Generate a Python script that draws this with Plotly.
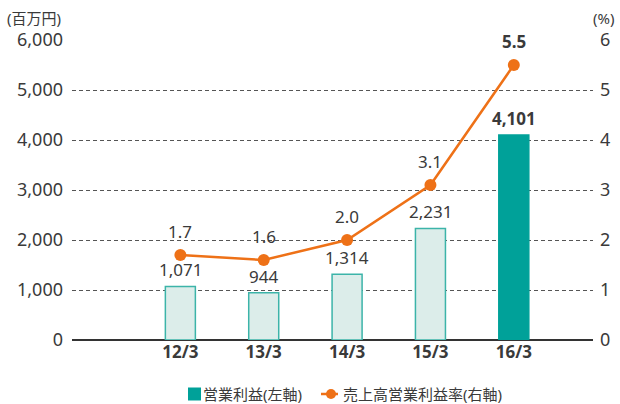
import plotly.graph_objects as go

categories = ["12/3", "13/3", "14/3", "15/3", "16/3"]
op_income = [1071, 944, 1314, 2231, 4101]
op_margin = [1.7, 1.6, 2.0, 3.1, 5.5]
left_ticks = [0, 1000, 2000, 3000, 4000, 5000, 6000]
right_ticks = [0, 1, 2, 3, 4, 5, 6]
legend_names = ["営業利益(左軸)", "売上高営業利益率(右軸)"]

FONT = "Noto Sans, Noto Sans CJK JP, sans-serif"
TXT = "#3a3a3a"
TEAL = "#00a199"
LIGHT = "#dcedea"
EDGE = "#3cb4a9"
ORANGE = "#ee7117"

L, R, T, B, W, H = 72, 27, 40, 64, 620, 404
PW, PH = W - L - R, H - T - B


def px(x):
    return (x - L) / PW


def py(y):
    return (H - B - y) / PH


xs = list(range(len(categories)))
fill = [LIGHT] * 4 + [TEAL]
edge = [EDGE] * 4 + [TEAL]

fig = go.Figure()
fig.add_trace(go.Bar(x=xs, y=op_income, width=0.36, marker=dict(color=fill, line=dict(color=edge, width=1.5)),
                     showlegend=False, yaxis="y"))
fig.add_trace(go.Scatter(x=xs, y=op_margin, mode="lines+markers", yaxis="y2",
                         line=dict(color=ORANGE, width=2.5), marker=dict(color=ORANGE, size=12),
                         showlegend=False))

for i, v in enumerate(op_income):
    bold = i == len(op_income) - 1
    fig.add_annotation(x=xs[i], y=v, yref="y", text=(f"<b>{v:,}</b>" if bold else f"{v:,}"),
                       showarrow=False, yanchor="bottom", yshift=3,
                       font=dict(size=17, color=TXT, family=FONT))
for i, v in enumerate(op_margin):
    bold = i == len(op_margin) - 1
    fig.add_annotation(x=xs[i], y=v, yref="y2", text=(f"<b>{v:.1f}</b>" if bold else f"{v:.1f}"),
                       showarrow=False, yanchor="bottom", yshift=10,
                       font=dict(size=17, color=TXT, family=FONT))

fig.add_annotation(x=0, xref="paper", xanchor="right", xshift=-9, y=1, yref="paper", yanchor="middle", yshift=22,
                   text="(百万円)", showarrow=False, font=dict(size=15, color=TXT, family=FONT))
fig.add_annotation(x=1, xref="paper", xanchor="center", xshift=10, y=1, yref="paper", yanchor="middle", yshift=22,
                   text="(%)", showarrow=False, font=dict(size=15, color=TXT, family=FONT))

# manual legend
ly = py(394)
fig.add_shape(type="rect", xref="paper", yref="paper", xsizemode="pixel", ysizemode="pixel",
              xanchor=px(194.5), yanchor=ly, x0=-6.5, x1=6.5, y0=-6.5, y1=6.5,
              fillcolor=TEAL, line=dict(width=0))
fig.add_annotation(x=px(202), y=ly, xref="paper", yref="paper", xanchor="left", yanchor="middle",
                   text=legend_names[0], showarrow=False, borderpad=0,
                   font=dict(size=15, color=TXT, family=FONT))
fig.add_shape(type="line", xref="paper", yref="paper", x0=px(321), x1=px(338), y0=ly, y1=ly,
              line=dict(color=ORANGE, width=2.5))
fig.add_shape(type="circle", xref="paper", yref="paper", xsizemode="pixel", ysizemode="pixel",
              xanchor=px(331), yanchor=ly, x0=-5, x1=5, y0=-5, y1=5,
              fillcolor=ORANGE, line=dict(width=0))
fig.add_annotation(x=px(342), y=ly, xref="paper", yref="paper", xanchor="left", yanchor="middle",
                   text=legend_names[1], showarrow=False, borderpad=0,
                   font=dict(size=15, color=TXT, family=FONT))

fig.update_layout(
    width=W, height=H,
    margin=dict(l=L, r=R, t=T, b=B, autoexpand=False),
    paper_bgcolor="white", plot_bgcolor="white",
    font=dict(family=FONT, color=TXT),
    showlegend=False,
    xaxis=dict(tickmode="array", tickvals=xs, ticktext=[f"<b>{c}</b>" for c in categories],
               range=[-1.3, 4.95], showgrid=False, zeroline=False, showline=False,
               tickfont=dict(size=17, color=TXT), ticks="", automargin=False),
    yaxis=dict(range=[0, 6000], tickvals=left_ticks, tickformat=",d", showgrid=True,
               gridcolor="#555555", griddash="4px,3px", gridwidth=1, zeroline=True,
               zerolinecolor="#333333", zerolinewidth=1.5, showline=False,
               tickfont=dict(size=18, color=TXT), ticks="", ticklabelstandoff=8, automargin=False),
    yaxis2=dict(range=[0, 6], tickvals=right_ticks, overlaying="y", side="right",
                showgrid=False, zeroline=False, showline=False,
                tickfont=dict(size=18, color=TXT), ticks="", ticklabelstandoff=6, automargin=False),
)

fig.write_html("out.html", config={"displayModeBar": False},
               post_script="document.body.style.margin='0';document.body.style.padding='0';")
